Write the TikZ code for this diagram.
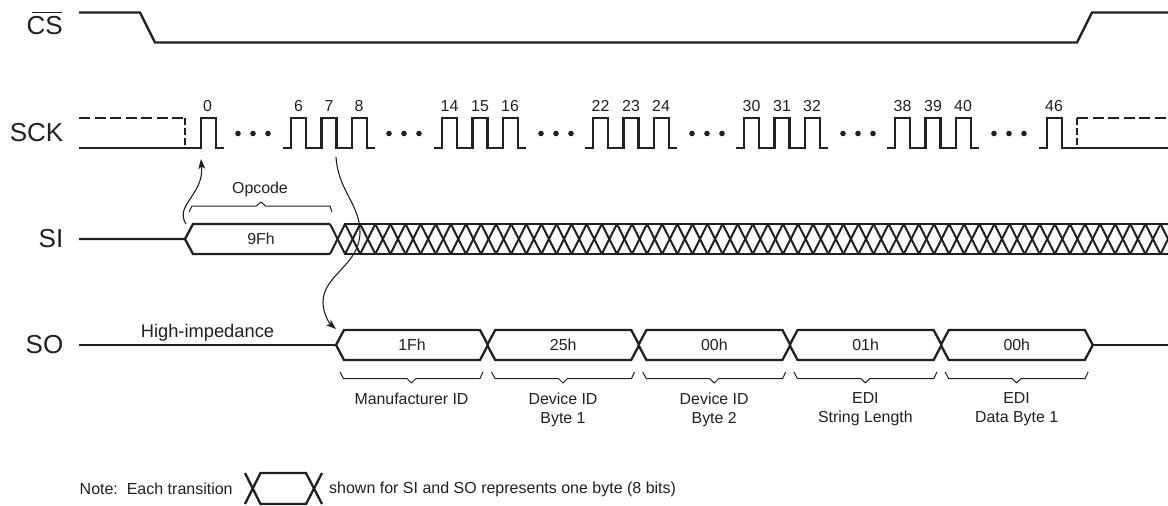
\documentclass[tikz,border=0pt]{standalone}
\usepackage{fontspec}
\setmainfont{Liberation Sans}
\usetikzlibrary{arrows.meta}
\definecolor{ink}{HTML}{231F20}
\tikzset{
  sig/.style={draw=ink,line width=2.3pt,line join=miter,line cap=butt},
  brc/.style={draw=ink,line width=1pt,line join=round},
  curve/.style={draw=ink,line width=1.1pt,-{Stealth[length=10pt,width=7pt,inset=2.5pt]}},
  big/.style={text=ink,font=\fontsize{26}{26}\selectfont,anchor=east,inner sep=0pt},
  small/.style={text=ink,font=\fontsize{15.9}{19}\selectfont,inner sep=0pt,align=center},
  notetext/.style={text=ink,font=\fontsize{16}{19}\selectfont,inner sep=0pt,anchor=west},
  dashsig/.style={draw=ink,line width=2.3pt,dash pattern=on 11pt off 4.5pt},
  vdash/.style={draw=ink,line width=2.3pt,dash pattern=on 7pt off 3pt},
  dot/.style={fill=ink,draw=none}
}
\begin{document}
\begin{tikzpicture}[x=1pt,y=-1pt]
\useasboundingbox (0,0) rectangle (1168,506);
% names
\node[big] (cs) at (63,26) {CS};
\draw[draw=ink,line width=1.6pt] (31.5,12.5) -- (62,12.5);
\node[big] (sck) at (63.5,132.5) {SCK};
\node[big] (si) at (63.5,239) {SI};
\node[big] (so) at (63.5,344.5) {SO};
% CS
\draw[sig] (79,12.5) -- (140,12.5) -- (155,42.5) -- (1077,42.5) -- (1092,12.5) -- (1168,12.5);
% SCK
\draw[dashsig] (79,118) -- (185,118);
\draw[vdash] (185,118) -- (185,148);
\draw[dashsig] (1077,118) -- (1168,118);
\draw[vdash] (1077,118) -- (1077,148);
\draw[sig] (79,148) -- (201,148) -- (201,118) -- (216,118) -- (216,148) -- (224,148);
\draw[sig] (1039,148) -- (1047,148) -- (1047,118) -- (1062,118) -- (1062,148) -- (1168,148);
\foreach \r in {291,442,593,744,895}{
  \draw[sig] ({\r-8},148) -- (\r,148) -- (\r,118) -- ({\r+15.2},118) -- ({\r+15.2},148)
    -- ({\r+30.4},148) -- ({\r+30.4},118) -- ({\r+45.6},118) -- ({\r+45.6},148)
    -- ({\r+60.8},148) -- ({\r+60.8},118) -- ({\r+76},118) -- ({\r+76},148) -- ({\r+84},148);
}
\foreach \d in {238,389,541,692,843,994}{
  \fill[dot] (\d,133.5) circle (2.8);
  \fill[dot] ({\d+15},133.5) circle (2.8);
  \fill[dot] ({\d+30},133.5) circle (2.8);
}
\node[small] (n0) at (207.5,106) {0};
\node[small] (n46) at (1054,106) {46};
\foreach \r/\a/\b/\c in {291/6/7/8,442/14/15/16,593/22/23/24,744/30/31/32,895/38/39/40}{
  \node[small] at ({\r+7.5},106) {\a};
  \node[small] at ({\r+38},106) {\b};
  \node[small] at ({\r+68},106) {\c};
}
% SI
\draw[sig] (79,239) -- (185,239) -- (193,224) -- (330,224);
\draw[sig] (185,239) -- (193,254) -- (330,254);
\begin{scope}
\clip (320,215) rectangle (1168,265);
\draw[sig] (344,224) -- (1170,224);
\draw[sig] (344,254) -- (1170,254);
\foreach \k in {0,...,55}{
  \draw[draw=ink,line width=2pt] ({330+15.1*\k},224) -- ({345.1+15.1*\k},254);
  \draw[draw=ink,line width=2pt] ({330+15.1*\k},254) -- ({345.1+15.1*\k},224);
}
\end{scope}
\node[small] (op9f) at (261,239) {9Fh};
% SO
\draw[sig] (79,345) -- (336,345);
\foreach \x/\t in {336/1Fh,487.2/25h,638.4/00h,789.6/01h,940.8/00h}{
  \draw[sig] (\x,345) -- ({\x+8},330) -- ({\x+144},330) -- ({\x+152},345);
  \draw[sig] (\x,345) -- ({\x+8},360) -- ({\x+144},360) -- ({\x+152},345);
  \node[small] at ({\x+76},345) {\t};
}
\draw[sig] (1092.8,345) -- (1168,345);
\node[text=ink,font=\fontsize{18.3}{20}\selectfont,inner sep=0pt] (hz) at (207.5,332.5) {High-impedance};
% braces
\draw[brc] (189,212) -- (192,206) -- (256.5,206) -- (261,202) -- (265.5,206) -- (330,206) -- (332,212);
\node[small] (opc) at (260,189) {Opcode};
\foreach \a/\txt in {340/Manufacturer ID,491.5/Device ID\\Byte 1,642.7/Device ID\\Byte 2,793.9/EDI\\String Length,945.1/EDI\\Data Byte 1}{
  \draw[brc] (\a,372) -- ({\a+3.5},378.5) -- ({\a+67},378.5) -- ({\a+71.5},383) -- ({\a+76},378.5) -- ({\a+140},378.5) -- ({\a+143},372);
  \node[small,anchor=north] at ({\a+71.5},392.5) {\txt};
}
% curved arrows
\coordinate (a1) at (186,224);
\coordinate (a2) at (201,159);
\draw[curve] (a1) .. controls (174,205) and (204,195) .. (a2);
\coordinate (b1) at (336,157);
\coordinate (b2) at (360,232);
\coordinate (b3) at (323,302);
\coordinate (b4) at (336,329);
\draw[draw=ink,line width=1.1pt] (b1) .. controls (338,190) and (360,205) .. (b2)
  .. controls (360,265) and (323,275) .. (b3);
\draw[curve] (b3) .. controls (323,313) and (329,323) .. (b4);
% note
\node[notetext] (note1) at (79.5,489) {Note:\ \ Each transition};
\node[notetext] (note2) at (329,489) {shown for SI and SO represents one byte (8 bits)};
\draw[sig] (245,473) -- (260.5,504) -- (306,504) -- (322,473);
\draw[sig] (245,504) -- (260.5,473) -- (306,473) -- (322,504);
\end{tikzpicture}
\end{document}
